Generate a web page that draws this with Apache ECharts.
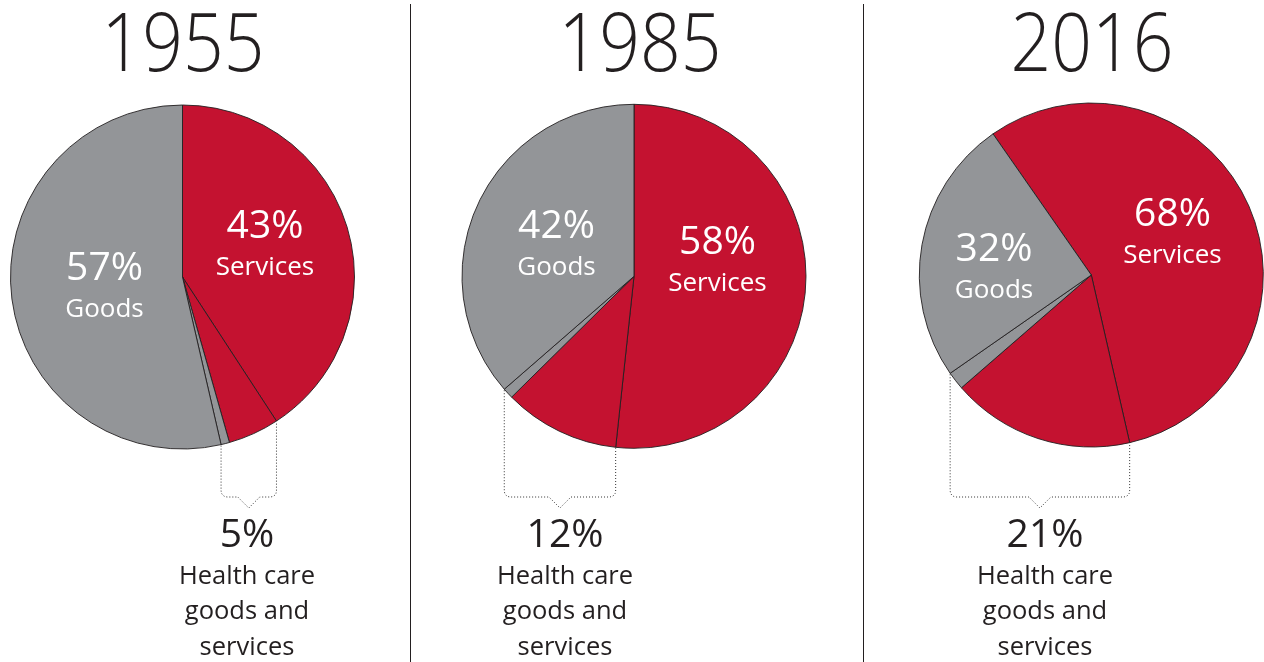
<!DOCTYPE html>
<html>
<head>
<meta charset="utf-8">
<script src="https://cdn.jsdelivr.net/npm/echarts@6/dist/echarts.min.js"></script>
<style>
html,body{margin:0;padding:0;background:#fff;}
#chart{width:1264px;height:662px;}
</style>
</head>
<body>
<div id="chart"></div>
<script>
// ---- data ----
const years = ['1955', '1985', '2016'];
const servicesShare = [40.8, 51.7, 56.1];        // non-health services (red)
const healthServicesShare = [4.8, 10.9, 17.2];   // health care services (red)
const healthGoodsShare = [0.8, 1.0, 1.7];        // health care goods (gray)
const goodsShare = [53.6, 36.4, 25.0];           // other goods (gray)
const servicesLabels = ['43%', '58%', '68%'];
const goodsLabels = ['57%', '42%', '32%'];
const healthLabels = ['5%', '12%', '21%'];
const sliceNames = ['Services', 'Health care services', 'Health care goods', 'Goods'];

// ---- layout / style ----
const RED = '#c41230', GRAY = '#939598', INK = '#231f20';
const centers = [[182.5, 277], [634, 276.3], [1091.3, 275]];
const R = 172;
const startAngles = [90, 90, 124.85];
const titleX = [183, 640, 1092];
const servLabelPos = [[265, 227, 268], [717.5, 243, 284], [1172.5, 215, 256]];
const goodsLabelPos = [[104.5, 269, 310], [556.5, 227, 268], [994, 249.5, 291]];
const bottomX = [247, 565, 1045];
const FONT = '"Open Sans", "Noto Sans", sans-serif';

const chart = echarts.init(document.getElementById('chart'), null, {renderer: 'canvas'});

const series = years.map((y, i) => ({
  type: 'pie',
  name: y,
  center: centers[i],
  radius: [0, R],
  startAngle: startAngles[i],
  clockwise: true,
  animation: false,
  silent: true,
  z: 1,
  label: {show: false},
  labelLine: {show: false},
  itemStyle: {borderColor: INK, borderWidth: 0.9},
  emphasis: {disabled: true},
  data: [
    {name: sliceNames[0], value: servicesShare[i], itemStyle: {color: RED}},
    {name: sliceNames[1], value: healthServicesShare[i], itemStyle: {color: RED}},
    {name: sliceNames[2], value: healthGoodsShare[i], itemStyle: {color: GRAY}},
    {name: sliceNames[3], value: goodsShare[i], itemStyle: {color: GRAY}}
  ]
}));

function txt(x, y, text, font, fill, extra) {
  return Object.assign({
    type: 'text', x: x, y: y, silent: true, z: 100,
    style: {text: text, font: font, fill: fill, textAlign: 'center', textVerticalAlign: 'middle', align: 'center', verticalAlign: 'middle'}
  }, extra || {});
}

const graphics = [];
// separators
[410.5, 863.5].forEach(x => graphics.push({
  type: 'line', silent: true, z: 100, shape: {x1: x, y1: 4, x2: x, y2: 662},
  style: {stroke: INK, lineWidth: 1}
}));

years.forEach((y, i) => {
  graphics.push(txt(titleX[i], 48, y, '300 82px ' + FONT, INK, {scaleX: 0.87}));
  const sp = servLabelPos[i], gp = goodsLabelPos[i];
  graphics.push(txt(sp[0], sp[1], servicesLabels[i], '39px ' + FONT, '#fff'));
  graphics.push(txt(sp[0], sp[2], 'Services', '26px ' + FONT, '#fff'));
  graphics.push(txt(gp[0], gp[1], goodsLabels[i], '39px ' + FONT, '#fff'));
  graphics.push(txt(gp[0], gp[2], 'Goods', '26px ' + FONT, '#fff'));

  // bracket under health slices, end points from data
  const total = servicesShare[i] + healthServicesShare[i] + healthGoodsShare[i] + goodsShare[i];
  const a0 = 90 - startAngles[i]; // clockwise-from-top angle of first slice start
  const angR = (a0 + servicesShare[i] / total * 360) * Math.PI / 180;
  const angL = (a0 + (servicesShare[i] + healthServicesShare[i] + healthGoodsShare[i]) / total * 360) * Math.PI / 180;
  const c = centers[i];
  const xR = c[0] + R * Math.sin(angR), yR = c[1] - R * Math.cos(angR);
  const xL = c[0] + R * Math.sin(angL), yL = c[1] - R * Math.cos(angL);
  const yb = 497, rc = 6, mid = (xL + xR) / 2, nw = 11, nd = 11;
  const pts = [[xL, yL + 1], [xL, yb - rc]];
  for (let k = 1; k <= 4; k++) {
    const t = k / 4 * Math.PI / 2;
    pts.push([xL + rc - rc * Math.cos(t), yb - rc + rc * Math.sin(t)]);
  }
  pts.push([mid - nw, yb], [mid, yb + nd], [mid + nw, yb], [xR - rc, yb]);
  for (let k = 1; k <= 4; k++) {
    const t = k / 4 * Math.PI / 2;
    pts.push([xR - rc + rc * Math.sin(t), yb - rc + rc * Math.cos(t)]);
  }
  pts.push([xR, yR + 1]);
  graphics.push({
    type: 'polyline', silent: true, z: 100, shape: {points: pts},
    style: {stroke: '#333', lineWidth: 1, lineDash: [1, 2], fill: null}
  });

  graphics.push(txt(bottomX[i], 536, healthLabels[i], '39px ' + FONT, INK));
  graphics.push(txt(bottomX[i], 577, 'Health care', '25.5px ' + FONT, INK));
  graphics.push(txt(bottomX[i], 612, 'goods and', '25.5px ' + FONT, INK));
  graphics.push(txt(bottomX[i], 648, 'services', '25.5px ' + FONT, INK));
});

chart.setOption({
  animation: false,
  backgroundColor: '#fff',
  series: series,
  graphic: {elements: graphics}
});
</script>
</body>
</html>
